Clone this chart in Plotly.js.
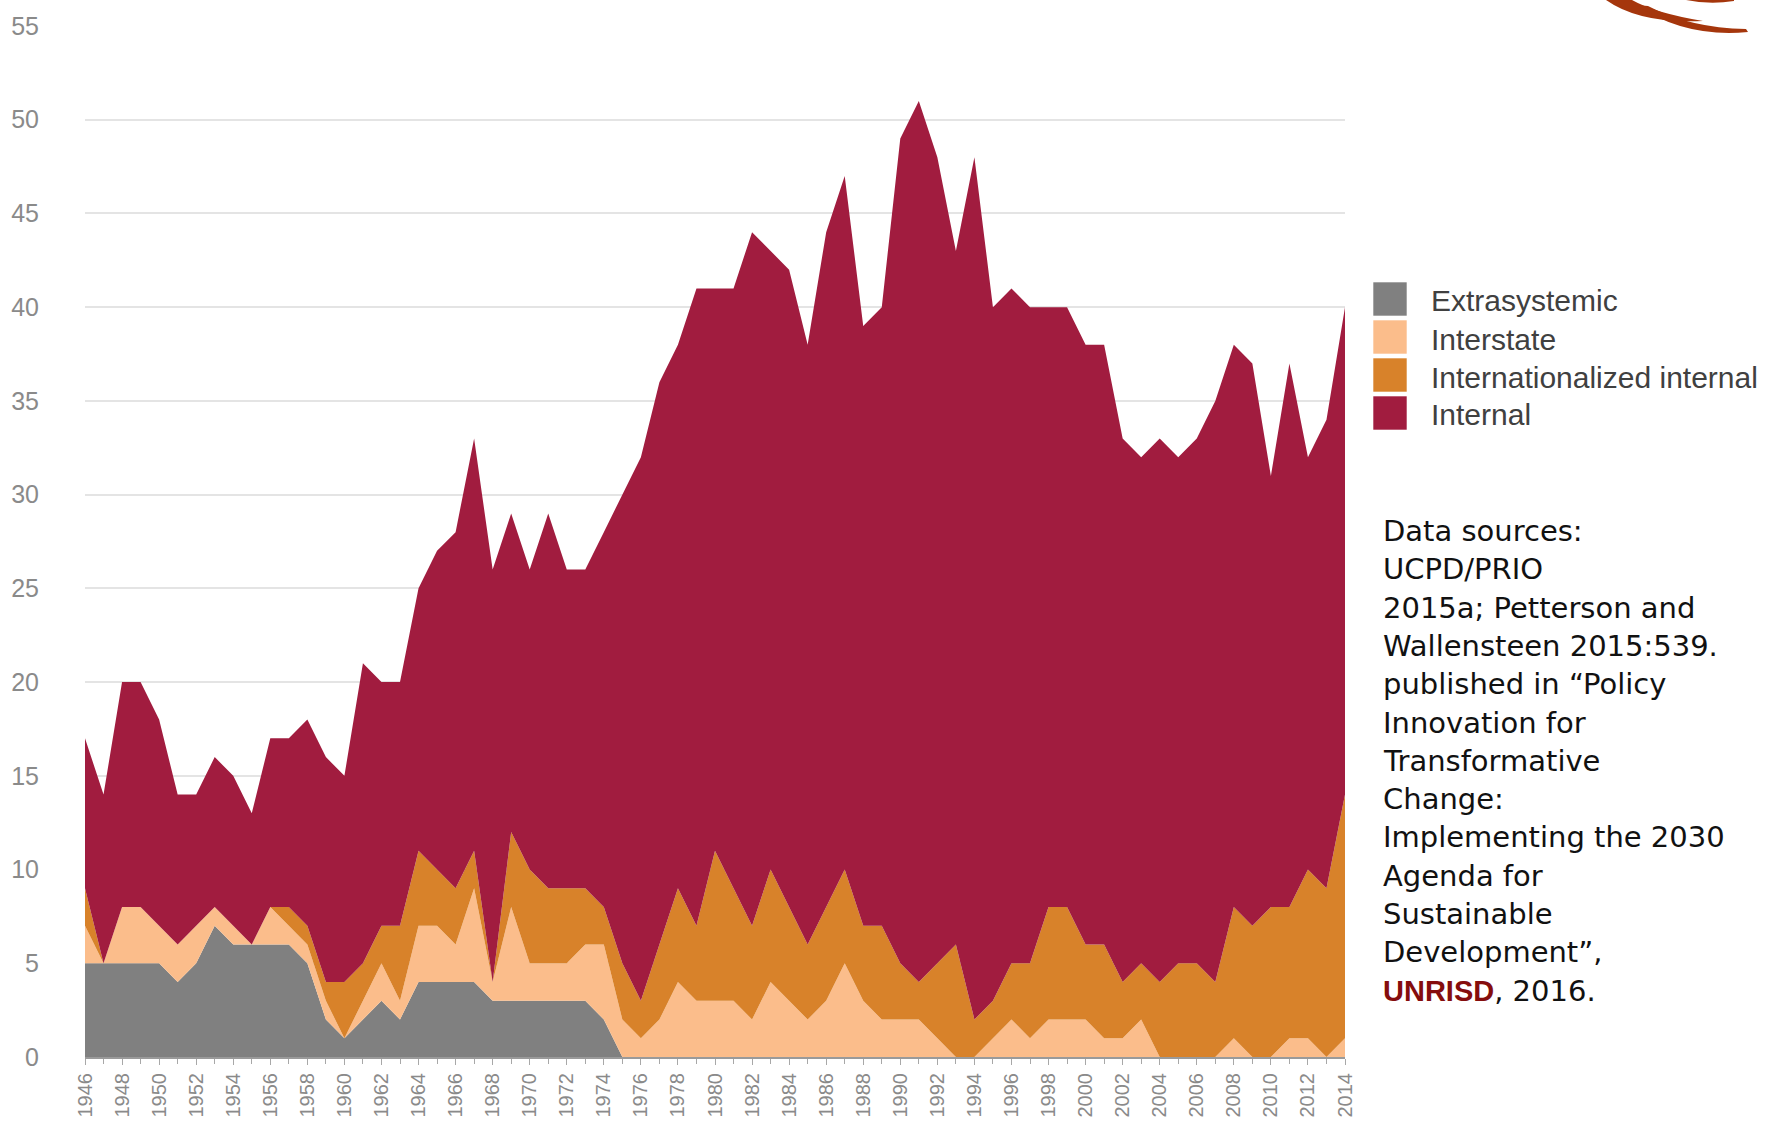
<!DOCTYPE html>
<html><head><meta charset="utf-8">
<script src="https://cdn.plot.ly/plotly-3.0.1.min.js"></script>
<style>html,body{margin:0;padding:0;background:#fff}#chart{width:1779px;height:1128px}</style>
</head><body><div id="chart"></div>
<script>
const years = [1946,1947,1948,1949,1950,1951,1952,1953,1954,1955,1956,1957,1958,1959,1960,1961,1962,1963,1964,1965,1966,1967,1968,1969,1970,1971,1972,1973,1974,1975,1976,1977,1978,1979,1980,1981,1982,1983,1984,1985,1986,1987,1988,1989,1990,1991,1992,1993,1994,1995,1996,1997,1998,1999,2000,2001,2002,2003,2004,2005,2006,2007,2008,2009,2010,2011,2012,2013,2014];
const extrasystemic = [5,5,5,5,5,4,5,7,6,6,6,6,5,2,1,2,3,2,4,4,4,4,3,3,3,3,3,3,2,0,0,0,0,0,0,0,0,0,0,0,0,0,0,0,0,0,0,0,0,0,0,0,0,0,0,0,0,0,0,0,0,0,0,0,0,0,0,0,0];
const interstate = [2,0,3,3,2,2,2,1,1,0,2,1,1,1,0,1,2,1,3,3,2,5,1,5,2,2,2,3,4,2,1,2,4,3,3,3,2,4,3,2,3,5,3,2,2,2,1,0,0,1,2,1,2,2,2,1,1,2,0,0,0,0,1,0,0,1,1,0,1];
const internationalized = [2,0,0,0,0,0,0,0,0,0,0,1,1,1,3,2,2,4,4,3,3,2,0,4,5,4,4,3,2,3,2,4,5,4,8,6,5,6,5,4,5,5,4,5,3,2,4,6,2,2,3,4,6,6,4,5,3,3,4,5,5,4,7,7,8,7,9,9,13];
const internal = [8,9,12,12,11,8,7,8,8,7,9,9,11,12,11,16,13,13,14,17,19,22,22,17,16,20,17,17,20,25,29,30,29,34,30,32,37,33,34,32,36,37,32,33,44,47,43,37,46,37,36,35,32,32,32,32,29,27,29,27,28,31,30,30,23,29,22,25,26];

const seriesNames = ['Extrasystemic','Interstate','Internationalized internal','Internal'];
const seriesColors = ['#808080','#fbbd8b','#d8822a','#a11c3f'];
const seriesData = [extrasystemic, interstate, internationalized, internal];
const sourceLines = ['Data sources:','UCPD/PRIO','2015a; Petterson and','Wallensteen 2015:539.','published in \u201cPolicy','Innovation for','Transformative','Change:','Implementing the 2030','Agenda for','Sustainable','Development\u201d,','<span style="font-family:Liberation Sans, Arial, sans-serif;font-weight:bold;color:#850d0d">UNRISD</span>, 2016.'];

const L=85, R=1345, T=26, B=1057, W=1779, H=1128;
function px(x){return (x-L)/(R-L);}
function py(y){return (B-y)/(B-T);}

const traces = seriesNames.map((n,i)=>({
  x: years, y: seriesData[i], name: n, type:'scatter', mode:'lines',
  stackgroup:'one', line:{width:0, color:seriesColors[i]}, fillcolor:seriesColors[i],
  showlegend:false, hoverinfo:'x+y+name'
}));

const shapes = [];
const annotations = [];
const legendCenters = [299,337,375,413];
seriesNames.forEach((n,i)=>{
  const c = legendCenters[i];
  shapes.push({type:'rect', xref:'paper', yref:'paper', x0:px(1373), x1:px(1407), y0:py(c+17), y1:py(c-17), fillcolor:seriesColors[i], line:{width:1, color:'rgba(255,255,255,0.6)'}});
  annotations.push({xref:'paper', yref:'paper', x:px(1429), y:py(c+2), xanchor:'left', yanchor:'middle', showarrow:false, text:n, font:{family:'Liberation Sans, Arial, sans-serif', size:30, color:'#404040'}});
});
sourceLines.forEach((t,i)=>{
  annotations.push({xref:'paper', yref:'paper', x:px(1381), y:py(531+i*38.3), xanchor:'left', yanchor:'middle', showarrow:false, text:t, font:{family:'DejaVu Sans, sans-serif', size:29, color:'#111'}});
});
// decorative logo swooshes (top-right)
const logoColor = '#a5360c';
const sw1 = 'M '+px(1606)+' '+py(0)+' Q '+px(1640)+' '+py(24)+' '+px(1703)+' '+py(21)+' Q '+px(1655)+' '+py(13)+' '+px(1632)+' '+py(0)+' Z';
const sw2 = 'M '+px(1636)+' '+py(5)+' Q '+px(1685)+' '+py(38)+' '+px(1748)+' '+py(32)+' L '+px(1746)+' '+py(29)+' Q '+px(1690)+' '+py(28)+' '+px(1648)+' '+py(6)+' Z';
const sw3 = 'M '+px(1686)+' '+py(0)+' Q '+px(1710)+' '+py(5)+' '+px(1734)+' '+py(1)+' L '+px(1734)+' '+py(0)+' Z';
[sw1,sw2,sw3].forEach(p=>shapes.push({type:'path', xref:'paper', yref:'paper', path:p, fillcolor:logoColor, line:{width:0}}));

const layout = {
  width:W, height:H, margin:{l:L, r:W-R, t:T, b:H-B},
  paper_bgcolor:'#fff', plot_bgcolor:'#fff',
  font:{family:'Liberation Sans, Arial, sans-serif'},
  showlegend:false,
  xaxis:{range:[1946,2014], tickmode:'linear', tick0:1946, dtick:2, tickangle:-90,
    ticks:'outside', ticklen:6, tickcolor:'#a8a8a8', tickwidth:1,
    showline:true, linecolor:'#9a9a9a', linewidth:2, showgrid:false, zeroline:false,
    tickfont:{size:20, color:'#8a8a8a'},
    minor:{tick0:1946, dtick:1, ticks:'outside', ticklen:5, tickcolor:'#a8a8a8', showgrid:false}},
  yaxis:{range:[0,55], tickmode:'linear', tick0:0, dtick:5, showgrid:true, gridcolor:'#e4e4e4', gridwidth:2,
    zeroline:false, ticks:'outside', ticklen:40, tickcolor:'rgba(0,0,0,0)',
    tickfont:{size:25, color:'#8a8a8a'}},
  shapes:shapes, annotations:annotations
};
Plotly.newPlot('chart', traces, layout, {displayModeBar:false, staticPlot:true});
</script></body></html>
